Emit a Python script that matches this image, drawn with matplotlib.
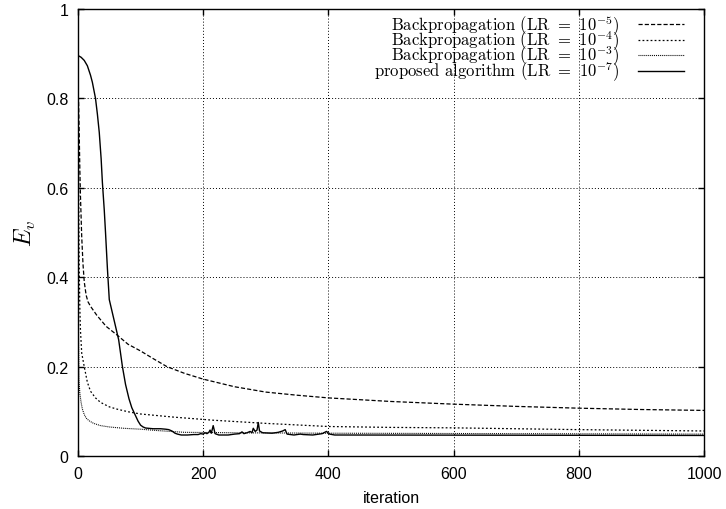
import matplotlib
matplotlib.use("Agg")
import matplotlib.pyplot as plt

plt.rcParams['mathtext.fontset'] = 'cm'
plt.rcParams['lines.scale_dashes'] = False
plt.rcParams['font.family'] = ['Liberation Sans', 'DejaVu Sans']

# Backpropagation, LR = 1e-5 (dashed)
bp5_x = [0, 1, 2, 3, 4, 6, 8, 10, 13, 16, 20, 30, 45, 63, 80, 100, 120, 142, 170,
         200, 250, 300, 350, 400, 500, 600, 700, 800, 900, 1000]
bp5_y = [0.82, 0.79, 0.72, 0.64, 0.58, 0.49, 0.43, 0.39, 0.36, 0.345, 0.335, 0.315,
         0.29, 0.27, 0.25, 0.235, 0.218, 0.2, 0.185, 0.172, 0.155, 0.143, 0.136,
         0.13, 0.122, 0.116, 0.111, 0.107, 0.104, 0.102]

# Backpropagation, LR = 1e-4 (dotted)
bp4_x = [0, 1, 2, 3, 4, 6, 10, 15, 20, 28, 36, 50, 62, 80, 100, 153, 217, 300,
         400, 500, 600, 800, 1000]
bp4_y = [0.80, 0.60, 0.42, 0.33, 0.28, 0.23, 0.20, 0.165, 0.145, 0.13, 0.12, 0.11,
         0.105, 0.099, 0.094, 0.087, 0.08, 0.073, 0.066, 0.064, 0.063, 0.059, 0.056]

# Backpropagation, LR = 1e-3 (fine dotted)
bp3_x = [0, 0.5, 1, 1.6, 3, 5, 7, 10, 13, 17.6, 25, 36, 50, 73, 100, 126, 170,
         250, 400, 1000]
bp3_y = [0.60, 0.40, 0.25, 0.17, 0.14, 0.12, 0.105, 0.093, 0.085, 0.079, 0.073,
         0.068, 0.065, 0.062, 0.06, 0.057, 0.053, 0.052, 0.051, 0.049]

# proposed algorithm, LR = 1e-7 (solid)
prop_x = [0, 5, 10, 15, 20, 23, 28, 31, 34, 37, 39, 42, 44, 47, 50, 55, 60, 65,
          71, 76, 81.5, 86, 92, 96, 100, 104, 108, 120, 132, 140, 145, 150, 155,
          159, 165, 175, 185, 192, 196, 200, 203, 206, 209, 211, 213, 216, 219,
          225, 240, 250, 258, 262, 265, 270, 275, 278, 280, 283, 286, 288, 290,
          295, 310, 320, 327, 331, 334, 345, 355, 360, 375, 390, 397, 402, 410, 1000]
prop_y = [0.896, 0.892, 0.885, 0.873, 0.852, 0.836, 0.80, 0.765, 0.724, 0.665,
          0.612, 0.55, 0.5, 0.42, 0.35, 0.32, 0.29, 0.26, 0.2, 0.16, 0.128, 0.108,
          0.09, 0.078, 0.069, 0.065, 0.0626, 0.061, 0.061, 0.06, 0.059, 0.056,
          0.051, 0.049, 0.047, 0.047, 0.048, 0.048, 0.05, 0.049, 0.052, 0.05,
          0.053, 0.058, 0.051, 0.068, 0.05, 0.047, 0.047, 0.049, 0.05, 0.054,
          0.05, 0.052, 0.055, 0.052, 0.062, 0.055, 0.058, 0.075, 0.056, 0.052,
          0.051, 0.053, 0.056, 0.059, 0.049, 0.047, 0.049, 0.048, 0.047, 0.05,
          0.055, 0.049, 0.047, 0.046]

labels = [r'Backpropagation (LR $=$ $10^{-5}$)',
          r'Backpropagation (LR $=$ $10^{-4}$)',
          r'Backpropagation (LR $=$ $10^{-3}$)',
          r'proposed algorithm (LR $=$ $10^{-7}$)']

x_ticks = [0, 200, 400, 600, 800, 1000]
y_ticks = [0, 0.2, 0.4, 0.6, 0.8, 1]
y_tick_labels = ['0', '0.2', '0.4', '0.6', '0.8', '1']

fig, ax = plt.subplots(figsize=(7.26, 5.1), dpi=100)
fig.subplots_adjust(left=0.1074, right=0.9697, top=0.9804, bottom=0.1039)

ax.plot(bp5_x, bp5_y, color='black', lw=0.9, linestyle=(0, (3.0, 1.5)), label=labels[0])
ax.plot(bp4_x, bp4_y, color='black', lw=0.9, linestyle=(0, (1.3, 1.6)), label=labels[1])
ax.plot(bp3_x, bp3_y, color='black', lw=0.8, linestyle=(0, (0.7, 0.7)), label=labels[2])
ax.plot(prop_x, prop_y, color='black', lw=1.0, label=labels[3])

ax.set_xlim(0, 1000)
ax.set_ylim(0, 1)
ax.set_xticks(x_ticks)
ax.set_yticks(y_ticks)
ax.set_yticklabels(y_tick_labels)
ax.tick_params(direction='in', length=4.3, width=1, top=True, right=True,
               labelsize=11.5, pad=7)
ax.grid(True, color='black', linestyle=(0, (0.7, 1.5)), linewidth=0.7)
ax.set_axisbelow(True)
for s in ax.spines.values():
    s.set_linewidth(1)

ax.set_xlabel('iteration', fontsize=11.5, labelpad=7)
ax.set_ylabel(r'$E_v$', fontsize=17, labelpad=6)

leg = ax.legend(loc='upper right', bbox_to_anchor=(0.97, 0.993), frameon=False,
                markerfirst=False, prop={'family': 'cmr10', 'size': 12},
                handlelength=2.8, handletextpad=1.1, labelspacing=-0.5,
                borderpad=0.05, borderaxespad=0.0)

plt.savefig('out.png', dpi=100)
